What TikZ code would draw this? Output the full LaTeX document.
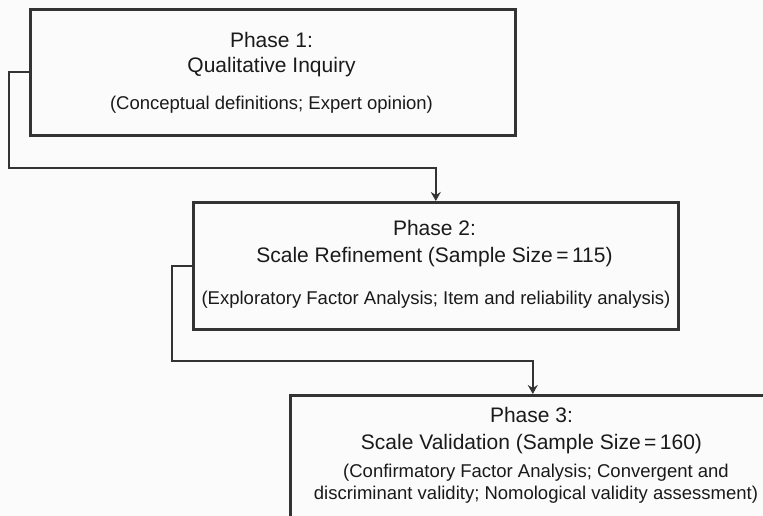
\documentclass[tikz,border=0pt]{standalone}
\usepackage{fontspec}
\setmainfont{Liberation Sans}
\usetikzlibrary{arrows.meta}
\definecolor{ln}{HTML}{333333}
\definecolor{tx}{HTML}{1A1A1A}
\definecolor{bg}{HTML}{FBFBFB}
\begin{document}
\begin{tikzpicture}[x=1pt,y=-1pt,
  box/.style={draw=ln, line width=2.6pt, rectangle, inner sep=0pt, anchor=north west, minimum width=485pt},
  ttl/.style={text=tx, anchor=base, inner sep=0pt, font=\fontsize{21}{25}\selectfont},
  det/.style={text=tx, anchor=base, inner sep=0pt, font=\fontsize{18.5}{22}\selectfont},
  conn/.style={draw=ln, line width=2.4pt, -{Stealth[length=9pt,width=10pt,inset=3pt]}}]
\useasboundingbox (0,0) rectangle (763,516);
\fill[bg] (0,0) rectangle (763,516);
\clip (0,0) rectangle (763,516);
% boxes
\node[box, minimum height=126pt] (p1) at (29,8) {};
\node[box, minimum height=127pt] (p2) at (192,201) {};
\node[box, minimum height=140pt] (p3) at (289,394) {};
% texts
\node[ttl] (t1a) at (271.5,48) {Phase 1:};
\node[ttl] (t1b) at (271.5,73) {Qualitative Inquiry};
\node[det] (t1c) at (271.5,110) {(Conceptual definitions; Expert opinion)};
\node[ttl] (t2a) at (434.5,235) {Phase 2:};
\node[ttl] (t2b) at (434.5,262) {Scale Refinement (Sample Size\,=\,115)};
\node[det] (t2c) at (436,304) {(Exploratory Factor Analysis; Item and reliability analysis)};
\node[ttl] (t3a) at (531.5,422) {Phase 3:};
\node[ttl] (t3b) at (531.5,449) {Scale Validation (Sample Size\,=\,160)};
\node[det] (t3c) at (536,477) {(Confirmatory Factor Analysis; Convergent and};
\node[det] (t3d) at (536,499) {discriminant validity; Nomological validity assessment)};
% connectors
\draw[conn] (p1.west) -- ++(-20,0) |- ([yshift=33pt]p2.north) -- (p2.north);
\draw[conn] (p2.west) -- ++(-20,0) |- ([yshift=33pt]p3.north) -- (p3.north);
\end{tikzpicture}
\end{document}
